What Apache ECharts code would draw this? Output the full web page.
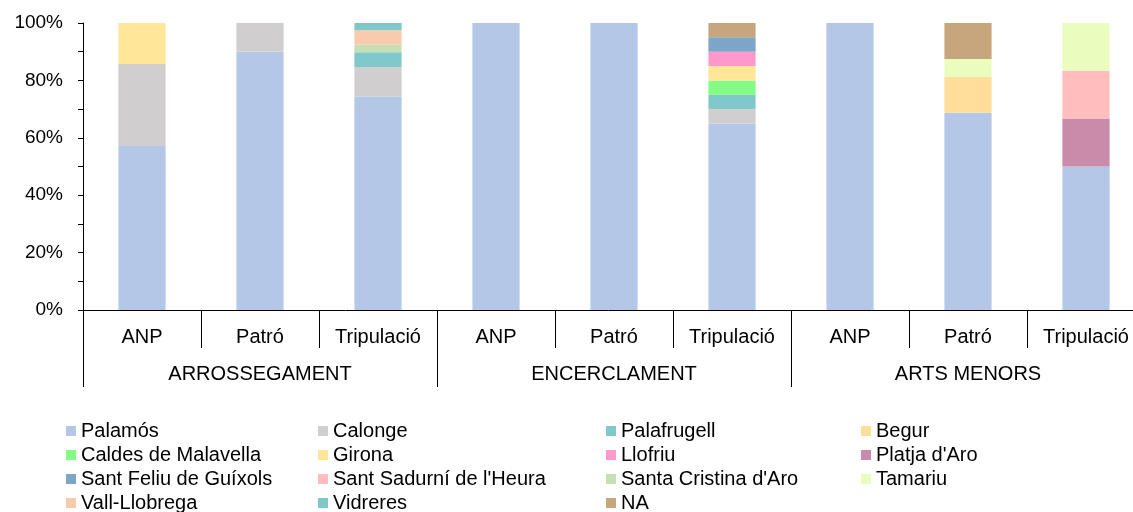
<!DOCTYPE html>
<html>
<head>
<meta charset="utf-8">
<script src="https://cdn.jsdelivr.net/npm/echarts@6/dist/echarts.min.js"></script>
<style>
html,body{margin:0;padding:0;background:#fff;}
#chart{width:1133px;height:512px;}
</style>
</head>
<body>
<div id="chart"></div>
<script>
// Categories
const subCategories = ['ANP', 'Patró', 'Tripulació', 'ANP', 'Patró', 'Tripulació', 'ANP', 'Patró', 'Tripulació'];
const groupCategories = ['ARROSSEGAMENT', 'ENCERCLAMENT', 'ARTS MENORS'];
const yTicks = [0, 20, 40, 60, 80, 100];

// Series (percent of each bar)
const seriesNames = ['Palamós', 'Calonge', 'Palafrugell', 'Begur', 'Caldes de Malavella', 'Girona', 'Llofriu',
  "Platja d'Aro", 'Sant Feliu de Guíxols', "Sant Sadurní de l'Heura", "Santa Cristina d'Aro", 'Tamariu',
  'Vall-Llobrega', 'Vidreres', 'NA'];
const palamos        = [57.1, 90, 74.4, 100, 100, 65, 100, 68.75, 50];
const calonge        = [28.6, 10, 10.3, 0, 0, 5, 0, 0, 0];
const palafrugell    = [0, 0, 5.1, 0, 0, 5, 0, 0, 0];
const begur          = [0, 0, 0, 0, 0, 0, 0, 12.5, 0];
const caldes         = [0, 0, 0, 0, 0, 5, 0, 0, 0];
const girona         = [14.3, 0, 0, 0, 0, 5, 0, 0, 0];
const llofriu        = [0, 0, 0, 0, 0, 5, 0, 0, 0];
const platja         = [0, 0, 0, 0, 0, 0, 0, 0, 16.7];
const santFeliu      = [0, 0, 0, 0, 0, 5, 0, 0, 0];
const santSadurni    = [0, 0, 0, 0, 0, 0, 0, 0, 16.7];
const santaCristina  = [0, 0, 2.6, 0, 0, 0, 0, 0, 0];
const tamariu        = [0, 0, 0, 0, 0, 0, 0, 6.25, 16.6];
const vallLlobrega   = [0, 0, 5.1, 0, 0, 0, 0, 0, 0];
const vidreres       = [0, 0, 2.5, 0, 0, 0, 0, 0, 0];
const na             = [0, 0, 0, 0, 0, 5, 0, 12.5, 0];
const seriesValues = [palamos, calonge, palafrugell, begur, caldes, girona, llofriu, platja, santFeliu,
  santSadurni, santaCristina, tamariu, vallLlobrega, vidreres, na];

const colors = ['#B4C7E7', '#D0CECE', '#80C9CA', '#FFDD9A', '#84FB84', '#FFE699', '#FF99CC', '#C98BA9',
  '#7DA5C8', '#FFBDBD', '#C5E0B4', '#EBFDBE', '#F8CBAD', '#80C8C8', '#C8A67D'];

const legendColumns = [
  ['Palamós', 'Caldes de Malavella', 'Sant Feliu de Guíxols', 'Vall-Llobrega'],
  ['Calonge', 'Girona', "Sant Sadurní de l'Heura", 'Vidreres'],
  ['Palafrugell', 'Llofriu', "Santa Cristina d'Aro", 'NA'],
  ['Begur', "Platja d'Aro", 'Tamariu']
];
const legendLefts = [66, 318, 606, 861];

const FONT = "'Liberation Sans', Arial, Helvetica, sans-serif";

const chart = echarts.init(document.getElementById('chart'), null, {renderer: 'canvas'});
const option = {
  animation: false,
  color: colors,
  textStyle: {fontFamily: FONT, color: '#000'},
  grid: {left: 83, top: 23, width: 1062, height: 287, containLabel: false, outerBoundsMode: 'none'},
  legend: legendColumns.map((col, i) => ({
    data: col,
    orient: 'vertical',
    left: legendLefts[i],
    top: 421,
    height: 120,
    padding: 0,
    itemGap: 4,
    itemWidth: 10,
    itemHeight: 10,
    icon: 'rect',
    selectedMode: false,
    textStyle: {fontFamily: FONT, fontSize: 20, lineHeight: 18, color: '#000'}
  })),
  xAxis: [
    {
      type: 'category',
      data: subCategories,
      position: 'bottom',
      boundaryGap: true,
      axisLine: {show: true, lineStyle: {color: '#000', width: 1}},
      axisTick: {show: true, length: 38, interval: 0, alignWithLabel: false, lineStyle: {color: '#000', width: 1}},
      axisLabel: {interval: 0, margin: 17, fontSize: 20, color: '#000', fontFamily: FONT},
      splitLine: {show: false}
    },
    {
      type: 'category',
      data: groupCategories,
      position: 'bottom',
      offset: 0,
      boundaryGap: true,
      axisLine: {show: false},
      axisTick: {show: true, length: 77, interval: 0, alignWithLabel: false, lineStyle: {color: '#000', width: 1}},
      axisLabel: {interval: 0, margin: 54, fontSize: 20, color: '#000', fontFamily: FONT},
      splitLine: {show: false}
    }
  ],
  yAxis: {
    type: 'value',
    min: yTicks[0],
    max: yTicks[yTicks.length - 1],
    interval: 20,
    axisLine: {show: true, lineStyle: {color: '#000', width: 1}},
    axisTick: {show: true, length: 5, inside: false, lineStyle: {color: '#000'}},
    minorTick: {show: true, splitNumber: 2, length: 5, lineStyle: {color: '#000'}},
    splitLine: {show: false},
    minorSplitLine: {show: false},
    axisLabel: {margin: 20, fontSize: 19, color: '#000', fontFamily: FONT, formatter: '{value}%'}
  },
  series: seriesNames.map((name, i) => ({
    name: name,
    type: 'bar',
    stack: 'total',
    xAxisIndex: 0,
    barWidth: '40%',
    data: seriesValues[i],
    itemStyle: {color: colors[i]},
    emphasis: {disabled: true}
  }))
};
chart.setOption(option);
</script>
</body>
</html>
